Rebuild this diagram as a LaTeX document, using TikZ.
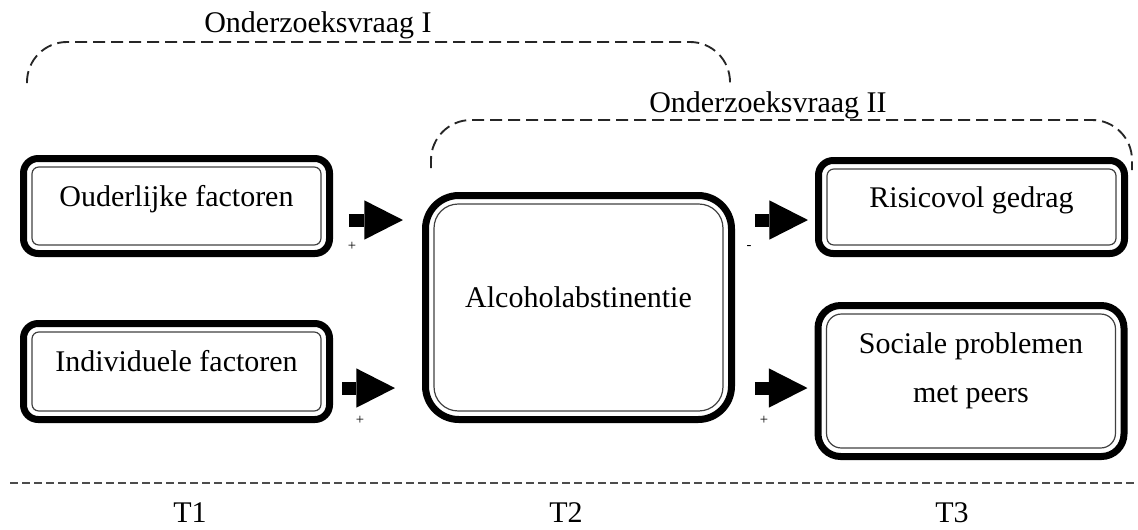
\documentclass[tikz,border=0pt]{standalone}
\usepackage{fontspec}
\setmainfont{Liberation Serif}
\usepackage{tikz}
\usetikzlibrary{arrows.meta}

\begin{document}
\begin{tikzpicture}[x=0.75pt, y=-0.75pt]
  % Define styles
  \tikzstyle{box} = [draw, line width=5.25pt, rounded corners=11pt, minimum width=229.5pt,
                     inner sep=0pt, outer sep=0pt, align=center, text height=10pt, text depth=10pt,
                     font=\fontsize{22.5}{27}\selectfont]
  \tikzstyle{innerline} = [line width=0.9pt, black!75]
  \tikzstyle{blockarrow} = [line width=9.75pt, -{Triangle[length=29pt, width=29.5pt, line width=0pt]}]
  \tikzstyle{signlabel} = [inner sep=0pt, font=\fontsize{11}{11}\selectfont]
  \tikzstyle{qbracket} = [dash pattern=on 9pt off 4.5pt, line width=1.4pt, black!85, rounded corners=30pt]
  \tikzstyle{question} = [anchor=base, inner sep=0pt, font=\fontsize{22.5}{27}\selectfont]

  \useasboundingbox (0,0) rectangle (1138,529);

  % Nodes
  \node[box, minimum height=71.25pt] (ouder) at (176.5,206) {Ouderlijke factoren};
  \node[box, minimum height=72pt] (indiv) at (176.5,371.5) {Individuele factoren};
  \node[box, minimum height=168pt, rounded corners=25pt] (alco) at (578.5,307.5) {Alcoholabstinentie};
  \node[box, minimum height=69.75pt] (risico) at (971.5,207) {Risicovol gedrag};
  \node[box, minimum height=113.25pt, rounded corners=17pt, text height=, text depth=,
        font=\fontsize{22.5}{36.75}\selectfont] (sociaal) at (971,381)
        {Sociale problemen\\met peers\rule[-20pt]{0pt}{0pt}};

  % inner lines of the frames
  \foreach \n/\r in {ouder/5pt, indiv/5pt, risico/5pt, alco/18pt, sociaal/11pt}
    \draw[innerline, rounded corners=\r] ([shift={(6.4pt,6.4pt)}]\n.south west) rectangle ([shift={(-6.4pt,-6.4pt)}]\n.north east);

  % Edges
  \draw[blockarrow, shorten <=14.6pt, shorten >=16.9pt] ([yshift=-10.5pt]ouder.east) coordinate (s1) -- (s1 -| alco.west);
  \draw[blockarrow, shorten <=9.4pt, shorten >=22.9pt] ([yshift=-12.4pt]indiv.east) coordinate (s2) -- (s2 -| alco.west);
  \coordinate (s3) at ([yshift=-9.75pt]risico.west);
  \coordinate (s4) at ([yshift=-5.25pt]sociaal.west);
  \draw[blockarrow, shorten <=17.6pt, shorten >=7.9pt] (s3 -| alco.east) -- (s3);
  \draw[blockarrow, shorten <=17.6pt, shorten >=7.9pt] (s4 -| alco.east) -- (s4);

  \node[signlabel] (p1) at (352,246) {+};
  \node[signlabel] (p2) at (360,420) {+};
  \node[signlabel] (m3) at (749,247) {-};
  \node[signlabel] (p4) at (764,420) {+};

  % research questions
  \draw[qbracket] (27,83) -- (27,42) -- (730,42) -- (730,88);
  \node[question] (vraag1) at (318,32) {Onderzoeksvraag I};
  \draw[qbracket] (431,168) -- (431,120) -- (1132,120) -- (1132,170);
  \node[question] (vraag2) at (768,112) {Onderzoeksvraag II};

  % time line
  \draw[dash pattern=on 6pt off 3pt, line width=1.1pt, black!70] (10,483) -- (1138,483);
  \node[question] (t1) at (190,522) {T1};
  \node[question] (t2) at (566,522) {T2};
  \node[question] (t3) at (952,522) {T3};
\end{tikzpicture}
\end{document}
